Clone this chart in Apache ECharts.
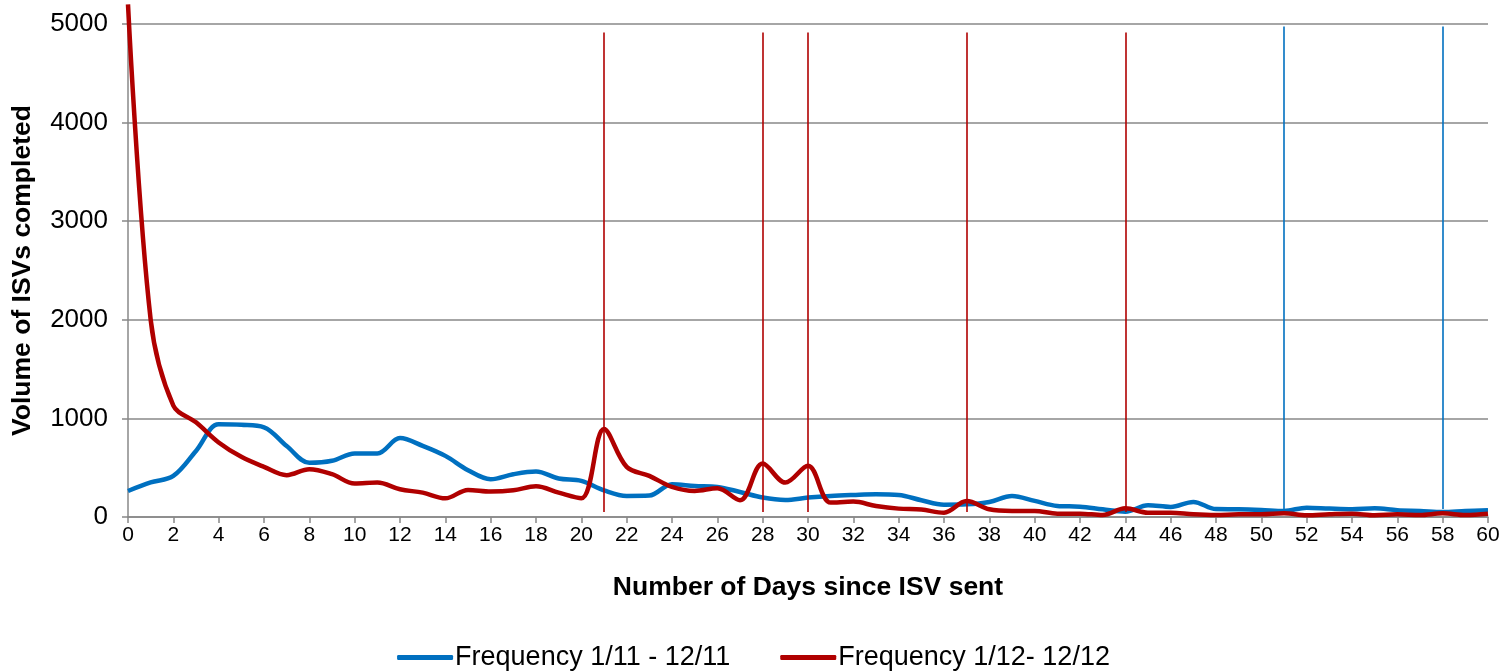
<!DOCTYPE html>
<html>
<head>
<meta charset="utf-8">
<script src="https://cdn.jsdelivr.net/npm/echarts@6/dist/echarts.min.js"></script>
<style>
html,body{margin:0;padding:0;background:#fff;}
#chart{width:1507px;height:672px;}
</style>
</head>
<body>
<div id="chart"></div>
<script>
const days = Array.from({length: 61}, (_, i) => String(i));
const seriesNames = ['Frequency 1/11 - 12/11', 'Frequency 1/12- 12/12'];
const freq2011 = [264,350,417,670,940,935,910,720,550,570,645,645,800,722,620,475,383,434,461,390,366,271,214,218,332,315,305,254,197,173,197,214,224,231,224,170,125,129,153,214,163,112,105,78,54,119,102,153,80,78,71,61,95,85,78,88,68,61,51,61,68];
const freq2012 = [5200,2000,1130,960,756,610,508,424,485,434,339,349,281,247,190,275,258,271,312,247,190,892,508,417,305,264,292,170,542,349,519,146,156,112,85,75,44,163,78,61,61,34,34,20,88,44,44,27,20,27,27,37,17,27,34,17,27,20,37,20,34];
const markerDays2011 = ['51','58'];
const markerRange2011 = [80, 4975];
const markerDays2012 = ['21','28','30','37','44'];
const markerRange2012 = [50, 4913];
const yTicks = {min: 0, max: 5000, interval: 1000};

const blue = '#0070C0', red = '#B00000';
function markers(ds, range, color){
  return {
    silent: true, symbol: ['none','none'], label: {show:false},
    lineStyle: {color: color, width: 1.6, type: 'solid'},
    data: ds.map(d => [{coord: [d, range[1]]}, {coord: [d, range[0]]}])
  };
}
const chart = echarts.init(document.getElementById('chart'));
chart.setOption({
  animation: false,
  textStyle: {fontFamily: 'Liberation Sans, Arial, sans-serif'},
  grid: {left: 128, right: 19, top: 24, bottom: 155, containLabel: false},
  xAxis: {
    type: 'category', data: days, boundaryGap: false,
    name: 'Number of Days since ISV sent', nameLocation: 'middle', nameGap: 57,
    nameTextStyle: {fontSize: 26.5, fontWeight: 'bold', color: '#000'},
    axisLine: {lineStyle: {color: '#888', width: 1.5}},
    axisTick: {interval: 1, length: 6, lineStyle: {color: '#888', width: 1.5}},
    axisLabel: {interval: 1, fontSize: 21, color: '#000', margin: 8},
    splitLine: {show: false}
  },
  yAxis: {
    type: 'value', min: yTicks.min, max: yTicks.max, interval: yTicks.interval,
    name: 'Volume of ISVs completed', nameLocation: 'middle', nameGap: 92,
    nameTextStyle: {fontSize: 26.5, fontWeight: 'bold', color: '#000'},
    axisLine: {show: true, lineStyle: {color: '#888', width: 1.5}},
    axisTick: {show: true, length: 6, lineStyle: {color: '#888', width: 1.5}},
    axisLabel: {fontSize: 26, color: '#000', margin: 20, formatter: v => String(v)},
    splitLine: {lineStyle: {color: '#888', width: 1.5}}
  },
  legend: {
    bottom: -4, left: 'center', itemGap: 50, itemWidth: 56, itemHeight: 5, icon: 'roundRect',
    textStyle: {fontSize: 27, color: '#000', padding: [0,0,0,-3]},
    data: seriesNames
  },
  series: [
    {name: seriesNames[0], type: 'line', data: freq2011, smooth: 0.35, showSymbol: false, symbol: 'none', clip: false,
     lineStyle: {color: blue, width: 4.5}, itemStyle: {color: blue},
     markLine: markers(markerDays2011, markerRange2011, blue)},
    {name: seriesNames[1], type: 'line', data: freq2012, smooth: 0.35, showSymbol: false, symbol: 'none', clip: false,
     lineStyle: {color: red, width: 4.5}, itemStyle: {color: red},
     markLine: markers(markerDays2012, markerRange2012, red)}
  ]
});
</script>
</body>
</html>
